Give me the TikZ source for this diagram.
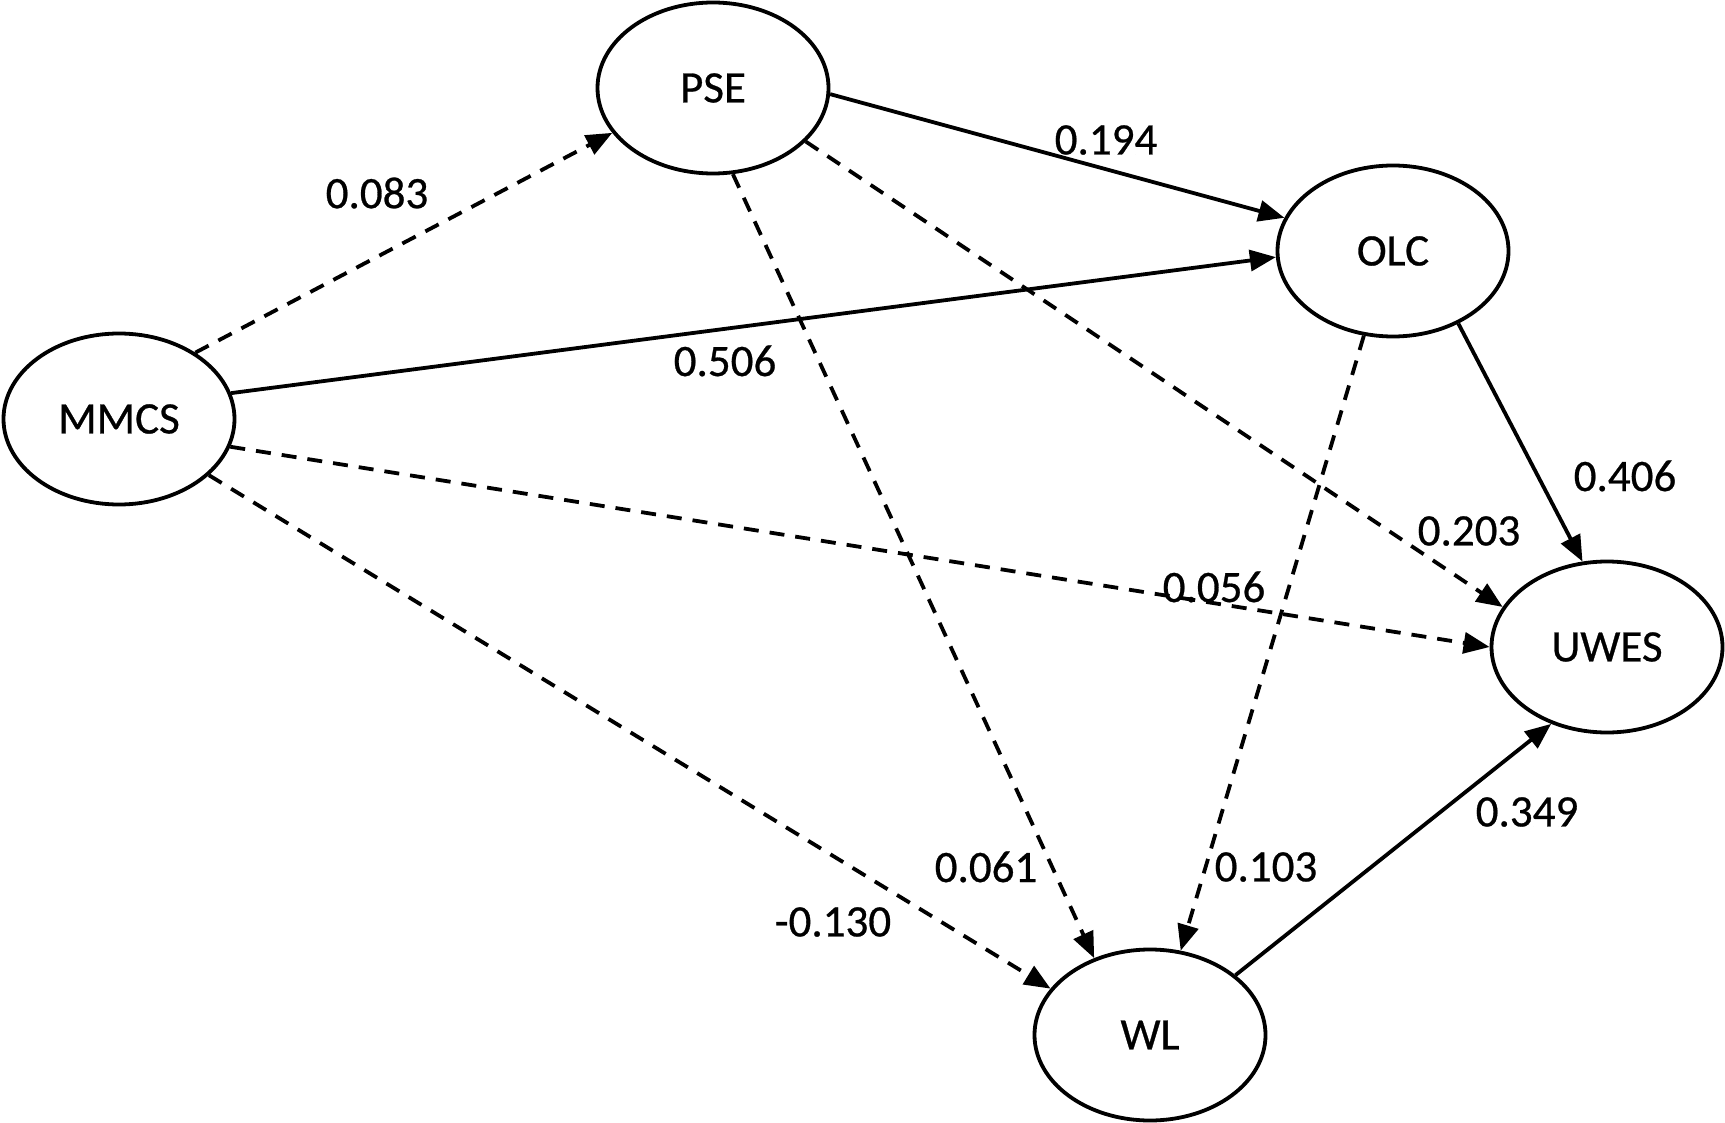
\documentclass[tikz,border=0pt]{standalone}
\usepackage{fontspec}
\setmainfont[FakeBold=0.6]{Carlito}
\usetikzlibrary{arrows.meta,shapes.geometric}
\begin{document}
\begin{tikzpicture}[x=1pt,y=-1pt,
  latent/.style={ellipse,draw,line width=3.8pt,minimum width=231pt,minimum height=171pt,inner sep=0pt,font=\fontsize{45}{54}\selectfont},
  coef/.style={font=\fontsize{45}{54}\selectfont,inner sep=0pt},
  sig/.style={line width=3.8pt,-{Triangle[length=26pt,width=21pt]}},
  ns/.style={sig,dash pattern=on 15pt off 11pt}]
\useasboundingbox (0,0) rectangle (1725,1123);
\node[latent] (mmcs) at (119,419) {MMCS};
\node[latent] (pse) at (713,88) {PSE};
\node[latent] (olc) at (1393,251) {OLC};
\node[latent] (uwes) at (1607,647) {UWES};
\node[latent] (wl) at (1150,1035) {WL};
\draw[ns] (mmcs.41) -- (pse.204);
\draw[sig] (mmcs.13) -- (olc.183);
\draw[ns] (mmcs.346) -- (uwes.180);
\draw[ns] (mmcs.328) -- (wl.155);
\draw[sig] (pse.357) -- (olc.163);
\draw[ns] (pse.330) -- (uwes.159);
\draw[ns] (pse.283) -- (wl.126);
\draw[sig] (olc.312) -- (uwes.106);
\draw[ns] (olc.251) -- (wl.70);
\draw[sig] (wl.35) -- (uwes.234);
\node[coef] (l1) at (377,193) {0.083};
\node[coef] (l2) at (725,361) {0.506};
\node[coef] (l3) at (1106,140) {0.194};
\node[coef] (l4) at (1469,531) {0.203};
\node[coef] (l5) at (1625,476) {0.406};
\node[coef] (l6) at (1214,587) {0.056};
\node[coef] (l7) at (833,922) {-0.130};
\node[coef] (l8) at (986,867) {0.061};
\node[coef] (l9) at (1266,867) {0.103};
\node[coef] (l10) at (1527,812) {0.349};
\end{tikzpicture}
\end{document}
